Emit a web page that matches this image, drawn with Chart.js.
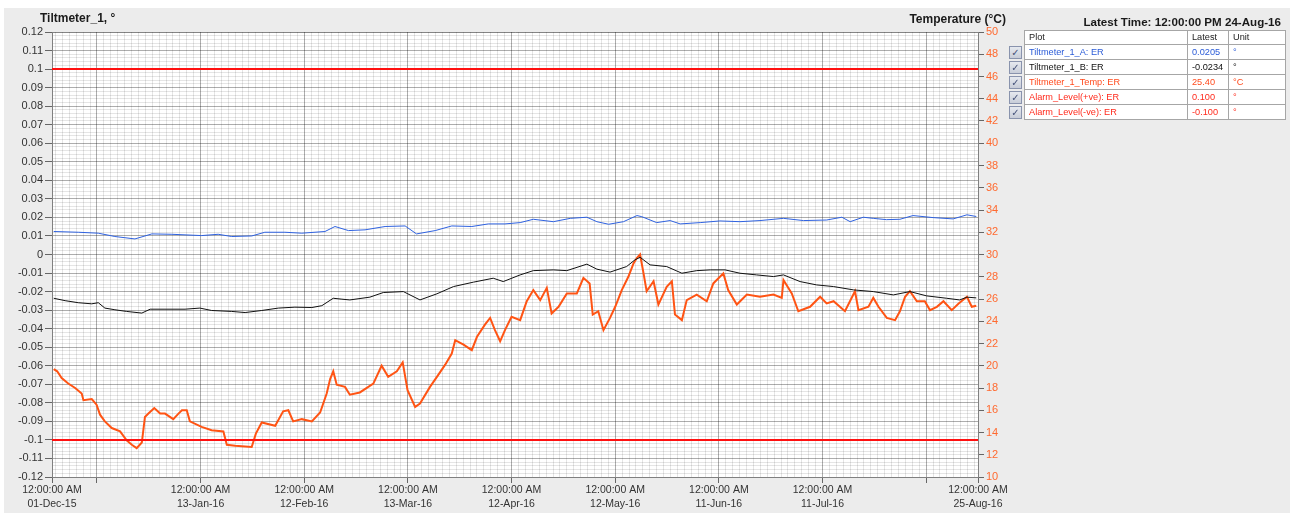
<!DOCTYPE html>
<html>
<head>
<meta charset="utf-8">
<script src="https://cdn.jsdelivr.net/npm/chart.js@4.4.1/dist/chart.umd.min.js"></script>
<style>
    html, body { margin: 0; padding: 0; background: #fff; width: 1290px; height: 513px; overflow: hidden; }
    #panel { position: absolute; left: 4px; top: 8px; width: 1286px; height: 505px; background: #ececec; }
    #chartBox { position: absolute; left: 0; top: 0; width: 1015px; height: 513px; }
    .title { position: absolute; font: bold 12px "Liberation Sans", Arial, sans-serif; color: #1a1a1a; white-space: nowrap; }
    #legend { position: absolute; left: 1024px; top: 30px; width: 261px; border-collapse: collapse; table-layout: fixed;
              font: 9.2px "Liberation Sans", Arial, sans-serif; background: #fff; border: 1px solid #7c7c7c; }
    #legend td { border: 1px solid #a6a6a6; height: 14px; padding: 0 0 0 4px; line-height: 13px; white-space: nowrap; overflow: hidden; }
    #legend tr.head td { height: 12px; color: #222; }
    .cb { position: absolute; left: 1009px; width: 11px; height: 11px; border: 1px solid #8993ad;
          background: linear-gradient(#e6e9ef, #c8cdd8); font: bold 10px "DejaVu Sans", sans-serif; color: #46537a;
          line-height: 11px; text-align: center; }
</style>
</head>
<body>
<div id="panel"></div>
<div id="chartBox"><canvas id="tiltChart" width="1015" height="513"></canvas></div>
<div class="title" style="left:40px; top:11px;">Tiltmeter_1, °</div>
<div class="title" style="right:284px; top:12px;">Temperature (°C)</div>
<div class="title" style="right:9px; top:15px; font-size:11.6px;">Latest Time: 12:00:00 PM 24-Aug-16</div>
<table id="legend">
    <colgroup><col style="width:163px"><col style="width:41px"><col style="width:57px"></colgroup>
    <tbody id="legendBody"></tbody>
</table>
<div id="checks"></div>
<script>
// Achse x: Tage seit 01-Dec-15 00:00
const xMin = 0;
const xMax = 268;
const xLabelDays = [0, 43, 73, 103, 133, 163, 193, 223, 268];
const xLabelDates = ['01-Dec-15', '13-Jan-16', '12-Feb-16', '13-Mar-16', '12-Apr-16', '12-May-16', '11-Jun-16', '11-Jul-16', '25-Aug-16'];
const xMajorDays = [13, 43, 73, 103, 133, 163, 193, 223, 253];
const xTimeLabel = '12:00:00 AM';

// Temperatur (°C), rechte Achse
const tempDays = [0.5, 1.5, 2.8, 4.7, 6.7, 8.6, 9.1, 11.5, 12.9, 13.9, 15.3, 17.3, 19.7, 21.6, 23.1, 24.5, 26.0, 26.9, 27.9, 29.6,
    31.3, 32.7, 35.1, 36.6, 37.6, 39.0, 39.9, 43.3, 46.2, 49.6, 50.6, 53.0, 57.8, 59.0, 60.7, 64.6, 66.9, 68.4, 69.8, 72.3,
    75.2, 77.6, 79.5, 80.5, 81.4, 82.4, 84.8, 86.2, 89.1, 93.0, 95.4, 97.3, 99.8, 101.5, 102.9, 105.1, 106.5, 109.4, 111.4, 113.8,
    115.7, 116.7, 119.1, 121.5, 123.0, 125.3, 126.8, 128.2, 129.7, 131.1, 133.0, 135.5, 137.4, 139.3, 141.3, 143.2, 144.6, 146.6, 149.0, 151.9,
    153.8, 155.6, 156.5, 158.1, 159.6, 161.5, 163.0, 164.9, 166.8, 168.3, 169.3, 170.2, 171.2, 172.1, 174.1, 175.5, 177.9, 179.4, 180.3, 182.3,
    183.7, 186.6, 189.5, 191.4, 194.3, 195.7, 198.2, 201.1, 204.9, 208.8, 211.2, 211.7, 214.1, 216.0, 219.4, 222.3, 224.2, 226.2, 229.5, 232.4,
    233.4, 236.3, 237.7, 239.2, 241.6, 244.0, 245.4, 246.9, 248.3, 250.3, 252.6, 254.1, 256.1, 258.0, 260.4, 262.4, 264.8, 266.2, 267.5];
const tempVals = [19.7, 19.5, 18.9, 18.4, 18.0, 17.5, 16.9, 17.0, 16.5, 15.6, 15.0, 14.4, 14.1, 13.3, 12.9, 12.6, 13.1, 15.4, 15.7, 16.2,
    15.7, 15.7, 15.2, 15.7, 16.0, 16.0, 15.0, 14.5, 14.2, 14.1, 12.9, 12.8, 12.7, 13.9, 14.9, 14.6, 15.9, 16.0, 15.0, 15.2,
    15.0, 15.8, 17.5, 18.8, 19.5, 18.3, 18.1, 17.4, 17.6, 18.4, 20.0, 19.0, 19.5, 20.3, 17.8, 16.3, 16.6, 18.1, 19.0, 20.1,
    21.1, 22.3, 21.9, 21.4, 22.6, 23.7, 24.3, 23.2, 22.2, 23.2, 24.4, 24.1, 25.8, 26.8, 25.9, 27.0, 24.7, 25.3, 26.5, 26.5,
    27.9, 27.4, 24.6, 24.9, 23.2, 24.3, 25.3, 26.8, 28.0, 29.2, 29.7, 30.0, 28.3, 26.7, 27.6, 25.5, 27.1, 27.6, 24.6, 24.1,
    25.9, 26.4, 25.8, 27.4, 28.3, 26.8, 25.5, 26.4, 26.2, 26.4, 26.1, 27.7, 26.5, 24.9, 25.3, 26.2, 25.6, 25.8, 24.9, 26.7,
    25.0, 25.3, 26.1, 25.3, 24.3, 24.1, 24.9, 26.2, 26.7, 25.8, 25.8, 25.0, 25.3, 25.8, 25.0, 25.6, 26.2, 25.3, 25.4];

// Tiltmeter_1_A (°), linke Achse
const tiltADays = [0.5, 7.6, 13.4, 18.2, 24.0, 28.9, 34.7, 43.3, 48.1, 52.0, 57.8, 61.6, 67.4, 72.3, 79.0, 81.9, 85.8, 90.6, 96.4, 102.2,
    105.5, 110.9, 115.7, 121.5, 126.3, 131.1, 135.5, 139.3, 145.1, 150.0, 154.8, 157.7, 161.1, 165.4, 169.3, 170.7, 175.0, 178.9, 181.8, 187.6,
    193.3, 199.1, 204.9, 211.7, 217.5, 224.2, 228.6, 231.0, 234.8, 237.7, 241.5, 245.4, 249.2, 255.0, 260.8, 264.8, 267.5];
const tiltAVals = [0.0124, 0.0120, 0.0115, 0.0097, 0.0084, 0.0111, 0.0109, 0.0102, 0.0109, 0.0097, 0.0100, 0.0120, 0.0120, 0.0115, 0.0124, 0.0151, 0.0129, 0.0133, 0.0151, 0.0154,
    0.0111, 0.0129, 0.0154, 0.0151, 0.0165, 0.0165, 0.0172, 0.0190, 0.0177, 0.0195, 0.0201, 0.0177, 0.0163, 0.0177, 0.0210, 0.0204, 0.0172, 0.0183, 0.0165, 0.0172,
    0.0181, 0.0177, 0.0183, 0.0195, 0.0183, 0.0186, 0.0201, 0.0177, 0.0201, 0.0195, 0.0188, 0.0190, 0.0210, 0.0199, 0.0192, 0.0214, 0.0205];

// Tiltmeter_1_B (°), linke Achse
const tiltBDays = [0.5, 3.8, 7.6, 11.5, 13.4, 15.3, 18.2, 21.6, 26.0, 28.4, 32.7, 38.5, 42.8, 46.2, 52.0, 55.9, 60.7, 65.5, 70.3, 75.2,
    78.1, 81.4, 83.9, 86.2, 92.0, 95.9, 101.7, 106.5, 111.4, 116.2, 122.0, 127.7, 130.6, 135.5, 139.3, 145.1, 149.0, 154.8, 157.7, 161.5,
    166.3, 168.7, 170.2, 173.1, 177.9, 182.3, 186.6, 190.5, 194.8, 199.1, 203.9, 208.8, 211.7, 216.5, 221.3, 226.2, 232.0, 237.7, 243.5, 248.3,
    253.1, 258.9, 262.7, 264.8, 267.5];
const tiltBVals = [-0.0236, -0.0249, -0.0260, -0.0266, -0.0260, -0.0289, -0.0298, -0.0307, -0.0316, -0.0295, -0.0295, -0.0295, -0.0289, -0.0302, -0.0307, -0.0313, -0.0302, -0.0289, -0.0284, -0.0286,
    -0.0276, -0.0236, -0.0241, -0.0245, -0.0230, -0.0205, -0.0200, -0.0245, -0.0212, -0.0173, -0.0149, -0.0128, -0.0146, -0.0110, -0.0087, -0.0083, -0.0087, -0.0052, -0.0079, -0.0095,
    -0.0065, -0.0029, -0.0015, -0.0056, -0.0065, -0.0101, -0.0087, -0.0083, -0.0083, -0.0101, -0.0110, -0.0119, -0.0110, -0.0146, -0.0164, -0.0173, -0.0191, -0.0200, -0.0218, -0.0200,
    -0.0223, -0.0236, -0.0245, -0.0230, -0.0234];

const alarmHigh = 0.1;
const alarmLow = -0.1;

// Achsen
const tiltMin = -0.12, tiltMax = 0.12, tiltMinorStep = 0.002, tiltMajorEvery = 5;
const tempMin = 10, tempMax = 50, tempStep = 2;

// Legendentabelle
const legendRows = [
    { name: 'Tiltmeter_1_A: ER', latest: '0.0205', unit: '°', color: '#2a5bd7' },
    { name: 'Tiltmeter_1_B: ER', latest: '-0.0234', unit: '°', color: '#111' },
    { name: 'Tiltmeter_1_Temp: ER', latest: '25.40', unit: '°C', color: '#ff4a1c' },
    { name: 'Alarm_Level(+ve): ER', latest: '0.100', unit: '°', color: '#ff2a1c' },
    { name: 'Alarm_Level(-ve): ER', latest: '-0.100', unit: '°', color: '#ff2a1c' }
];

// halbtransparent, damit sich Haupt- und Nebenlinien nicht gegenseitig überdecken
const GRID_EDGE = 'rgba(0,0,0,0.48)';
const GRID_MAJOR = 'rgba(0,0,0,0.32)';
const GRID_MINOR = 'rgba(0,0,0,0.1)';
const TICK_MARK = '#666';
const FONT_FAMILY = '"Liberation Sans", Arial, sans-serif';

function toXY(days, vals) {
    return days.map((d, i) => ({ x: d, y: vals[i] }));
}

function buildLegend() {
    const body = document.getElementById('legendBody');
    let html = '<tr class="head"><td>Plot</td><td>Latest</td><td>Unit</td></tr>';
    legendRows.forEach(r => {
        html += `<tr style="color:${r.color}"><td>${r.name}</td><td>${r.latest}</td><td>${r.unit}</td></tr>`;
    });
    body.innerHTML = html;
    // Checkboxen links neben den Zeilen
    const rows = body.querySelectorAll('tr');
    const checks = document.getElementById('checks');
    rows.forEach((tr, i) => {
        if (i === 0) return;
        const rect = tr.getBoundingClientRect();
        const cb = document.createElement('div');
        cb.className = 'cb';
        cb.style.top = Math.round(rect.top + rect.height / 2 - 6.5) + 'px';
        cb.textContent = '✓';
        checks.appendChild(cb);
    });
}

const plotBackground = {
    id: 'plotBackground',
    beforeDraw(chart) {
        const { ctx, chartArea } = chart;
        ctx.save();
        ctx.fillStyle = '#fff';
        ctx.fillRect(chartArea.left, chartArea.top, chartArea.right - chartArea.left, chartArea.bottom - chartArea.top);
        ctx.restore();
    }
};

const lineDefaults = { pointRadius: 0, tension: 0, fill: false, borderJoinStyle: 'miter' };

new Chart(document.getElementById('tiltChart'), {
    type: 'line',
    data: {
        datasets: [
            { ...lineDefaults, label: 'Tiltmeter_1_Temp', data: toXY(tempDays, tempVals), yAxisID: 'y1', borderColor: '#ff5414', borderWidth: 2, order: 3 },
            { ...lineDefaults, label: 'Tiltmeter_1_A', data: toXY(tiltADays, tiltAVals), yAxisID: 'y', borderColor: '#2f62e0', borderWidth: 1, order: 2 },
            { ...lineDefaults, label: 'Tiltmeter_1_B', data: toXY(tiltBDays, tiltBVals), yAxisID: 'y', borderColor: '#111', borderWidth: 1, order: 1 },
            { ...lineDefaults, label: 'Alarm_Level(+ve)', data: toXY([xMin, xMax], [alarmHigh, alarmHigh]), yAxisID: 'y', borderColor: '#ff1010', borderWidth: 2, order: 0 },
            { ...lineDefaults, label: 'Alarm_Level(-ve)', data: toXY([xMin, xMax], [alarmLow, alarmLow]), yAxisID: 'y', borderColor: '#ff1010', borderWidth: 2, order: 0 }
        ]
    },
    options: {
        responsive: false,
        animation: false,
        devicePixelRatio: 1,
        layout: { padding: { top: 32, left: 0, right: 0, bottom: 0 } },
        plugins: { legend: { display: false }, tooltip: { enabled: false } },
        scales: {
            x: {
                type: 'linear',
                min: xMin,
                max: xMax,
                afterBuildTicks(scale) {
                    const vals = [xMin];
                    for (let d = 1; d < xMax; d += 2) vals.push(d);
                    vals.push(xMax);
                    scale.ticks = vals.map(v => ({ value: v }));
                },
                afterFit(scale) { scale.height = 36; },
                ticks: {
                    autoSkip: false,
                    maxRotation: 0,
                    minRotation: 0,
                    padding: 1,
                    color: '#333',
                    font: { family: FONT_FAMILY, size: 10.5, lineHeight: 1.25 },
                    callback(value) {
                        const i = xLabelDays.indexOf(value);
                        return i >= 0 ? [xTimeLabel, xLabelDates[i]] : '';
                    }
                },
                grid: {
                    tickLength: 6,
                    color(ctx) {
                        const v = ctx.tick ? ctx.tick.value : null;
                        if (v === xMin || v === xMax) return GRID_EDGE;
                        return xMajorDays.includes(v) ? GRID_MAJOR : GRID_MINOR;
                    },
                    tickColor(ctx) {
                        const v = ctx.tick ? ctx.tick.value : null;
                        return (xMajorDays.includes(v) || xLabelDays.includes(v)) ? TICK_MARK : 'rgba(0,0,0,0)';
                    }
                },
                border: { display: true, color: '#808080' }
            },
            y: {
                type: 'linear',
                position: 'left',
                min: tiltMin,
                max: tiltMax,
                afterBuildTicks(scale) {
                    const n = Math.round((tiltMax - tiltMin) / tiltMinorStep);
                    const ticks = [];
                    for (let i = 0; i <= n; i++) ticks.push({ value: tiltMin + i * tiltMinorStep });
                    scale.ticks = ticks;
                },
                afterFit(scale) { scale.width = 52; },
                ticks: {
                    autoSkip: false,
                    padding: 2,
                    color: '#333',
                    font: { family: FONT_FAMILY, size: 11 },
                    callback(value) {
                        const i = Math.round(value / tiltMinorStep);
                        return i % tiltMajorEvery === 0 ? String(Number((i * tiltMinorStep).toFixed(2))) : '';
                    }
                },
                grid: {
                    tickLength: 7,
                    color(ctx) {
                        if (!ctx.tick) return GRID_MINOR;
                        const i = Math.round(ctx.tick.value / tiltMinorStep);
                        if (Math.abs(i) === Math.round(tiltMax / tiltMinorStep)) return GRID_EDGE;
                        return i % tiltMajorEvery === 0 ? GRID_MAJOR : GRID_MINOR;
                    },
                    tickColor(ctx) {
                        if (!ctx.tick) return 'rgba(0,0,0,0)';
                        const i = Math.round(ctx.tick.value / tiltMinorStep);
                        return i % tiltMajorEvery === 0 ? TICK_MARK : 'rgba(0,0,0,0)';
                    }
                },
                border: { display: true, color: '#808080' }
            },
            y1: {
                type: 'linear',
                position: 'right',
                min: tempMin,
                max: tempMax,
                afterFit(scale) { scale.width = 37; },
                ticks: { stepSize: tempStep, autoSkip: false, padding: 2, color: '#ff6a30', font: { family: FONT_FAMILY, size: 11 } },
                grid: { drawOnChartArea: false, tickLength: 6, tickColor: TICK_MARK },
                border: { display: true, color: '#808080' }
            }
        }
    },
    plugins: [plotBackground]
});

buildLegend();
</script>
</body>
</html>
